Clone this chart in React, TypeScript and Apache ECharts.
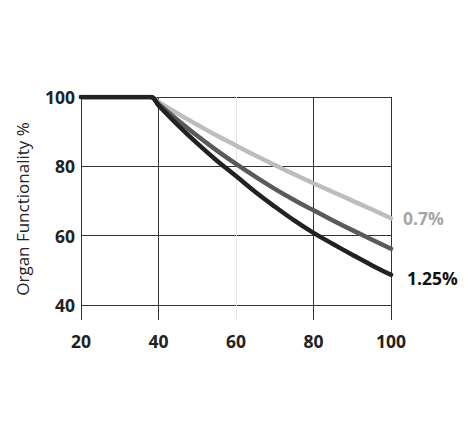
import React, { useEffect, useRef } from "react";
import * as echarts from "echarts";

const ages = [20, 38, 40, 45, 50, 55, 60, 65, 70, 75, 80, 85, 90, 95, 100];
const rateLow = [100, 100, 98.6, 95.2, 92.0, 88.9, 86.0, 83.1, 80.4, 77.7, 75.1, 72.6, 70.1, 67.6, 65.0];
const rateMid = [100, 100, 98.0, 93.3, 88.8, 84.6, 80.7, 77.0, 73.5, 70.3, 67.3, 64.4, 61.6, 58.9, 56.2];
const rateHigh = [100, 100, 97.6, 91.9, 86.6, 81.7, 77.2, 72.6, 68.4, 64.4, 60.8, 57.6, 54.5, 51.5, 48.7];
const seriesLabels = ["0.7%", "", "1.25%"];
const yAxisTitle = "Organ Functionality %";

const FONT = "'Open Sans', 'Noto Sans', sans-serif";

export default function App() {
  const ref = useRef<HTMLDivElement>(null);
  useEffect(() => {
    if (!ref.current) return;
    const chart = echarts.init(ref.current, null, { renderer: "svg" });
    const pts = (vals: number[]) => ages.map((a, i) => [a, vals[i]]);
    const mk = (name: string, vals: number[], color: string, label: string, labelColor: string, dist: number, offY: number) => ({
      type: "line",
      name,
      xAxisIndex: 0,
      yAxisIndex: 0,
      data: pts(vals),
      smooth: 0.4,
      symbol: "none",
      lineStyle: { color, width: 4.5, cap: "round", join: "round" },
      endLabel: label
        ? {
            show: true,
            formatter: () => label,
            color: labelColor,
            fontFamily: FONT,
            fontWeight: "bold",
            fontSize: 17.5,
            distance: dist,
            offset: [0, offY],
          }
        : { show: false },
      z: 3,
    });
    chart.setOption({
      animation: false,
      backgroundColor: "#ffffff",
      grid: [
        { left: 81, right: 81, top: 97, height: 208 },
        { left: 81, right: 81, top: 97, height: 223 },
      ],
      xAxis: [
        { gridIndex: 0, type: "value", min: 20, max: 100, interval: 20, show: false },
        {
          gridIndex: 1,
          type: "value",
          min: 20,
          max: 100,
          interval: 20,
          axisLine: { show: false },
          axisTick: { show: false },
          axisLabel: { color: "#222", fontFamily: FONT, fontWeight: "bold", fontSize: 17.5, margin: 12 },
          splitLine: {
            show: true,
            lineStyle: { color: ["#333", "#333", "#e6e6e6", "#333", "#333"], width: 1 },
          },
        },
      ],
      yAxis: [
        {
          gridIndex: 0,
          type: "value",
          min: 40,
          max: 100,
          interval: 20,
          axisLine: { show: false },
          axisTick: { show: false },
          axisLabel: { color: "#222", fontFamily: FONT, fontWeight: "bold", fontSize: 17.5, margin: 6 },
          splitLine: { show: true, lineStyle: { color: "#333", width: 1 } },
        },
        { gridIndex: 1, type: "value", min: 0, max: 1, show: false },
      ],
      graphic: [
        {
          type: "text",
          x: 22,
          y: 209,
          rotation: Math.PI / 2,
          style: {
            text: yAxisTitle,
            fill: "#222",
            font: `17px ${FONT}`,
            align: "center",
            verticalAlign: "middle",
          },
        },
      ],
      series: [
        mk("light", rateLow, "#bdbdbd", seriesLabels[0], "#a6a6a6", 12, 0),
        mk("mid", rateMid, "#5a5a5a", seriesLabels[1], "#5a5a5a", 12, 0),
        mk("dark", rateHigh, "#222222", seriesLabels[2], "#111111", 16, 3),
      ],
    });
    return () => chart.dispose();
  }, []);
  return <div ref={ref} style={{ position: "fixed", left: 0, top: 0, width: 472, height: 426 }} />;
}
